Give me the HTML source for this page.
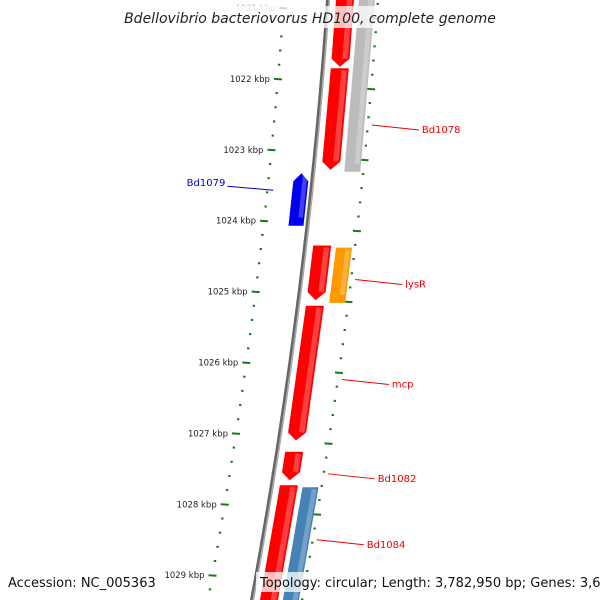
<!DOCTYPE html>
<html><head><meta charset="utf-8">
<style>
html,body{margin:0;padding:0;background:#fff}
svg{display:block;font-family:"DejaVu Sans","Liberation Sans",sans-serif}
</style></head>
<body>
<svg id="map" width="600" height="600" viewBox="0 0 600 600" xmlns="http://www.w3.org/2000/svg">
<g id="ticks"></g>
<g id="backbone"></g>
<g id="features"></g>
<g id="labels"></g>
<rect x="112" y="6" width="376" height="22" fill="#fff" opacity="0.75"/>
<text x="310" y="23" text-anchor="middle" font-size="14" font-style="italic" fill="#222">Bdellovibrio bacteriovorus HD100, complete genome</text>
<rect x="4" y="572" width="148" height="20" fill="#fff" opacity="0.75"/>
<text x="8" y="587" font-size="13" fill="#111">Accession: NC_005363</text>
<rect x="256" y="572" width="340" height="20" fill="#fff" opacity="0.75"/>
<text x="260" y="587" font-size="13" fill="#111">Topology: circular; Length: 3,782,950 bp; Genes: 3,629</text>
</svg>
<script>
const tickKbp = [1021,1022,1023,1024,1025,1026,1027,1028,1029];
const tickLabels = ["1021 kbp","1022 kbp","1023 kbp","1024 kbp","1025 kbp","1026 kbp","1027 kbp","1028 kbp","1029 kbp"];
// features: [startKbp, endKbp]
const fwdGenes = [[1020.8,1021.83],[1021.85,1023.28],[1024.35,1025.12],[1025.2,1027.1],[1027.26,1027.66],[1027.73,1029.5]];
const fwdNames = ["","Bd1078","","mcp","Bd1082",""];
const revGenes = [[1023.33,1024.07]];
const revNames = ["Bd1079"];
const grayGenes = [[1020.8,1023.31]];
const orangeGenes = [[1024.38,1025.16]];
const orangeNames = ["lysR"];
const blueGenes = [[1027.76,1029.5]];
const blueNames = ["Bd1084"];

const NS="http://www.w3.org/2000/svg";
function Y(k){return 8+(k-1021)*70.9;}
function X(y){return 328-0.0694*y-0.0000954*y*y;}
function el(tag,attrs,parent){const e=document.createElementNS(NS,tag);for(const a in attrs)e.setAttribute(a,attrs[a]);parent.appendChild(e);return e;}
const gT=document.getElementById('ticks'),gB=document.getElementById('backbone'),gF=document.getElementById('features'),gL=document.getElementById('labels');

// backbone
let d="";for(let y=-10;y<=610;y+=10){d+=(y==-10?"M":"L")+(X(y)).toFixed(1)+","+y;}
let bb=el('path',{d:d,stroke:'#666',"stroke-width":4,fill:'none'},gB);

let bb2=el('path',{d:d,stroke:'#aaa',"stroke-width":1.5,fill:'none',transform:'translate(1.2,0)'},gB);


// tick rings
for(let k=1020.8;k<=1029.6;k+=0.2){
  const y=Y(k);const major=Math.abs(k-Math.round(k))<0.01;
  const xl=X(y)-44;
  const t=el('line',{x1:xl-(major?4:1.2),y1:y,x2:xl+(major?4:1.2),y2:y+(major?0.5:0),stroke:'#1a7a1a',"stroke-width":2},gT);
  
  const yr=y+10;const xr=X(yr)+50;const majR=major;
  const t2=el('line',{x1:xr-(majR?4:1.2),y1:yr,x2:xr+(majR?4:1.2),y2:yr+(majR?0.5:0),stroke:'#1a7a1a',"stroke-width":2},gT);
  
}
tickKbp.forEach((k,i)=>{const y=Y(k);
  const t=el('text',{x:X(y)-52,y:y+3,"font-size":8.5,"text-anchor":"end",fill:i==0?'#bbb':'#222'},gT);
  t.textContent=tickLabels[i];});

function feature(s,e,o1,o2,color,arrow,name){
  const y1=Y(s),y2=Y(e);let pts=[];
  const tip=8;
  if(arrow==='down'){
    pts=[[X(y1)+o1,y1],[X(y1)+o2,y1],[X(y2-tip)+o2,y2-tip],[X(y2)+(o1+o2)/2,y2],[X(y2-tip)+o1,y2-tip]];
  }else if(arrow==='up'){
    pts=[[X(y1+tip)+o1,y1+tip],[X(y1)+(o1+o2)/2,y1],[X(y1+tip)+o2,y1+tip],[X(y2)+o2,y2],[X(y2)+o1,y2]];
  }else{
    pts=[[X(y1)+o1,y1],[X(y1)+o2,y1],[X(y2)+o2,y2],[X(y2)+o1,y2]];
  }
  const p=el('polygon',{points:pts.map(p=>p[0].toFixed(1)+","+p[1].toFixed(1)).join(" "),fill:color},gF);
  
  // shading stripe
  const w=o2-o1;
  const sh=el('line',{x1:X(y1+2)+o1+w*0.75,y1:y1+2,x2:X(y2-tip)+o1+w*0.75,y2:y2-tip,stroke:'#fff',"stroke-opacity":0.25,"stroke-width":w*0.3},gF);
  
}
fwdGenes.forEach((g,i)=>feature(g[0],g[1],8,26,'#f00','down','forward-gene'));
revGenes.forEach((g,i)=>feature(g[0],g[1],-19,-4,'#0000ee','up','reverse-gene'));
grayGenes.forEach(g=>feature(g[0],g[1],31,47,'#bbb','none','gray-feature'));
orangeGenes.forEach(g=>feature(g[0],g[1],31,47,'#f90','none','orange-feature'));
blueGenes.forEach(g=>feature(g[0],g[1],31,47,'#4682b4','none','blue-feature'));

function label(kbp,side,text,color){
  const y=Y(kbp);
  if(side==='right'){
    const x1=X(y)+54,x2=x1+47;
    const l=el('line',{x1:x1,y1:y,x2:x2,y2:y+5,stroke:color,"stroke-width":1},gL);
    
    const t=el('text',{x:x2+3,y:y+8,"font-size":10,fill:color},gL);t.textContent=text;
    
  }else{
    const x2=X(y)-38,x1=x2-46;
    const l=el('line',{x1:x1,y1:y-4,x2:x2,y2:y,stroke:color,"stroke-width":1},gL);
    
    const t=el('text',{x:x1-2,y:y-4,"font-size":10,"text-anchor":"end",fill:color},gL);t.textContent=text;
    
  }
}
label(1022.65,'right',fwdNames[1],'#e00');
label(1023.57,'left',revNames[0],'#0000cc');
label(1024.83,'right',orangeNames[0],'#e00');
label(1026.24,'right',fwdNames[3],'#e00');
label(1027.57,'right',fwdNames[4],'#e00');
label(1028.5,'right',blueNames[0],'#e00');
</script>
</body></html>
